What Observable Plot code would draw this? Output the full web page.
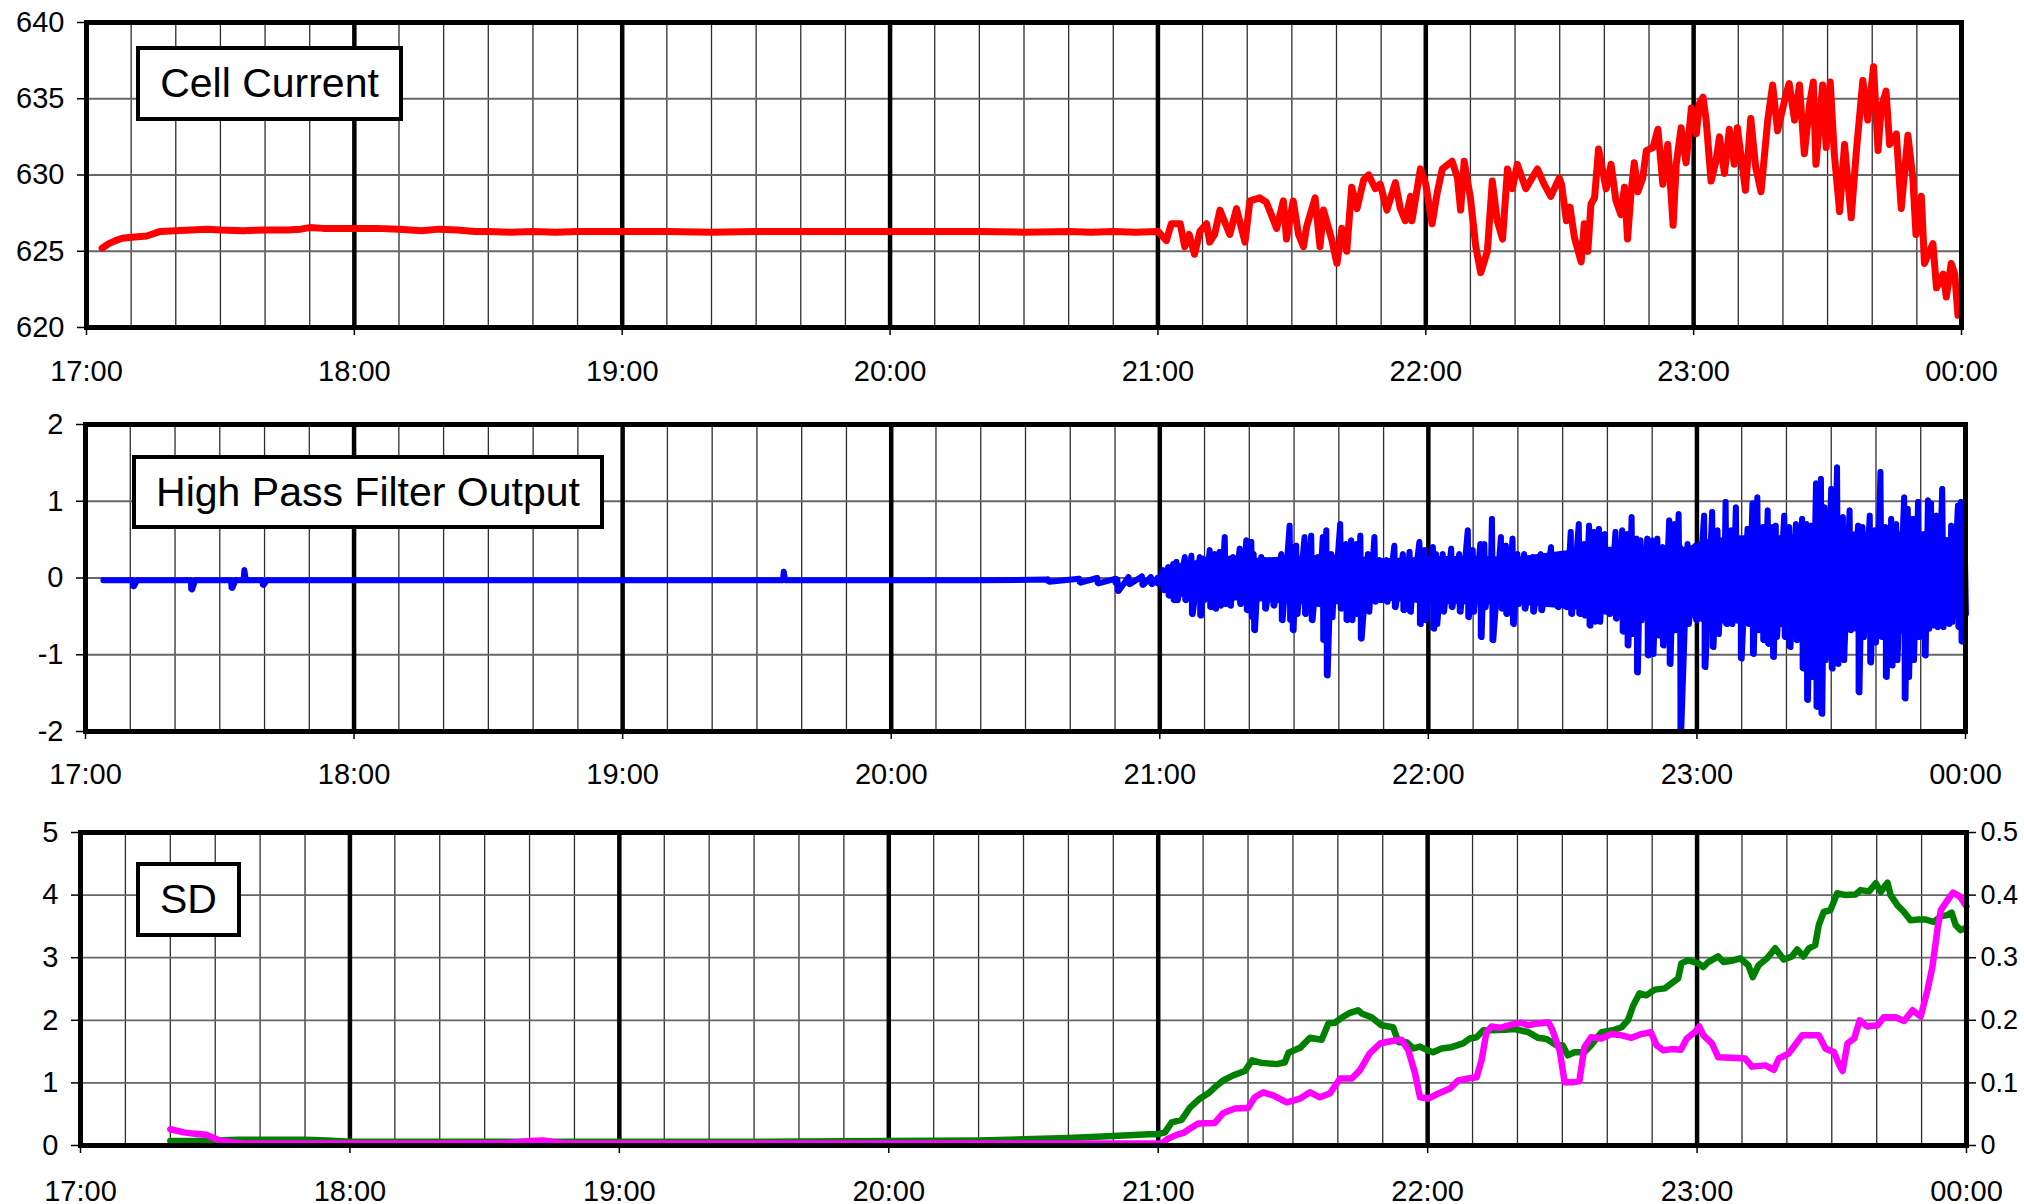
<!DOCTYPE html>
<html>
<head>
<meta charset="utf-8">
<script src="https://cdn.jsdelivr.net/npm/d3@7"></script>
<script src="https://cdn.jsdelivr.net/npm/@observablehq/plot@0.6"></script>
<style>
html, body { margin: 0; padding: 0; background: #fff; overflow: hidden; width: 2024px; height: 1204px; }
#root { position: relative; width: 2024px; height: 1204px; font-family: "Liberation Sans", Arial, sans-serif; background: #fff; }
.panel { position: absolute; left: 0; }
.panel svg { display: block; }
.tag { position: absolute; box-sizing: border-box; border: 4px solid #000; background: #fff; font-size: 41px;
       display: flex; align-items: center; justify-content: center; color: #000; white-space: nowrap; }
</style>
</head>
<body>
<div id="root"></div>
<script>
// ---------- axis ticks & labels (time in minutes after 17:00) ----------
const hourTicks = [0, 60, 120, 180, 240, 300, 360, 420];
const hourLabels = ["17:00", "18:00", "19:00", "20:00", "21:00", "22:00", "23:00", "00:00"];
const currentTicks = [620, 625, 630, 635, 640];
const filterTicks = [-2, -1, 0, 1, 2];
const sdLeftTicks = [0, 1, 2, 3, 4, 5];
const sdRightTicks = [0, 0.1, 0.2, 0.3, 0.4, 0.5];
const panelTitles = ["Cell Current", "High Pass Filter Output", "SD"];

// ---------- Cell current: [minutes after 17:00, value] ----------
const cellCurrent = [
[3.5,625.2],[5,625.5],[6.5,625.7],[8,625.85],[9.5,625.9],[11.5,625.95],[13.5,626.0],[15,626.15],[16.5,626.3],
[20,626.35],[23.5,626.4],[27,626.45],[30,626.4],[35,626.35],[40,626.4],[45,626.4],[48,626.45],[50,626.55],
[53,626.5],[57,626.5],[60,626.5],[65,626.5],[70,626.45],[75,626.35],[79,626.45],[83,626.4],[87,626.3],[90,626.3],
[95,626.25],[100,626.3],[105,626.25],[110,626.3],[115,626.3],[120,626.3],[130,626.3],[140,626.25],[150,626.3],
[160,626.3],[170,626.3],[180,626.3],[190,626.3],[200,626.3],[210,626.25],[220,626.3],[225,626.25],[230,626.3],
[235,626.25],[240,626.3],
[241.9,625.7],[243,626.8],[245,626.8],[246,625.3],[247,626.1],[248.2,624.8],[249.4,626.3],[250.9,626.8],
[251.6,625.6],[252.7,626.1],[253.9,627.7],[256.1,626.1],[257.6,627.8],[259.5,625.6],[260.6,628.3],[262.8,628.5],
[264.3,628.2],[266.6,626.5],[268.1,628.3],[268.8,625.8],[270.3,628.3],[271.5,626.1],[272.6,625.3],[273.3,626.6],
[275.2,628.5],[276.3,625.3],[277.1,627.7],[278.9,625.8],[280.1,624.2],[281.2,626.5],[282.3,625.0],[283.4,629.2],
[284.6,627.8],[286.1,629.7],[287.2,630.0],[288.7,629.1],[289.8,629.4],[291.3,627.7],[293.2,629.5],[294.3,627.8],
[295.4,627.0],[296.6,628.6],[296.9,627.0],[298.8,630.4],[300,629.4],[301.4,626.8],[302.6,628.9],[303.7,630.4],
[305.9,630.9],[307.1,629.8],[307.8,627.7],[308.6,630.9],[310,628.5],[311.2,625.3],[312.3,623.6],[313.8,625.0],
[314.9,629.6],[316.0,627.0],[317.2,625.8],[318.3,630.4],[319.4,629.1],[320.5,630.7],[322.4,629.1],[325,630.4],
[326.5,629.4],[328,628.6],[329.9,629.8],[330.4,629.4],[331.5,627.0],[332.3,627.9],[333.3,625.9],[334.8,624.3],
[335.5,626.8],[336.3,625.0],[337.0,628.1],[337.8,628.5],[338.7,631.7],[340.4,629.1],[341.5,630.7],[342.6,628.3],
[343.7,627.4],[344.5,629.2],[345.2,625.8],[346.0,628.9],[346.7,630.8],[347.5,628.9],[348.6,629.8],[349.4,631.6],
[350.9,631.8],[352.0,633.0],[353.1,629.4],[354.2,632.0],[355.4,626.7],[356.1,630.7],[357.2,633.1],[358.3,630.8],
[359.5,634.4],[360.6,632.7],[361.3,634.7],[362.1,635.1],[362.8,633.6],[363.9,629.6],[365.0,630.9],[365.8,632.5],
[366.9,630.1],[368.0,633.0],[369.1,630.7],[369.8,633.1],[371.6,629.0],[372.8,633.7],[373.9,630.5],[375.1,628.9],
[376.6,633.6],[377.7,635.9],[378.8,632.9],[380.7,635.3],[381.4,636.0],[382.6,633.6],[383.7,635.9],[384.8,631.4],
[386.0,634.7],[386.8,636.1],[387.4,630.7],[388.9,635.9],[389.7,631.8],[390.6,636.1],[391.5,631.4],[392.7,627.6],
[393.8,632.0],[395.3,627.2],[396.4,631.4],[397.9,636.2],[399.0,633.6],[400.3,637.1],[401.3,631.6],[402.0,634.4],
[403.1,635.5],[403.9,632.0],[405.4,632.7],[406.5,627.8],[408.0,632.6],[409.1,629.8],[409.8,626.1],[411.0,628.6],
[411.7,624.2],[413.6,625.5],[414.4,622.6],[415.9,623.5],[416.6,622.0],[417.7,624.2],[418.5,623.5],[419.2,620.8],
[419.8,622.4]
];

// ---------- High pass filter output: [minutes after 17:00, peak, trough] ----------
const filterOutput = [
[4,-0.03,-0.03],[9.5,-0.03,-0.03],[10.5,-0.03,-0.11],[11.5,-0.03,-0.03],[22.5,-0.03,-0.03],[23.5,-0.03,-0.15],
[24.5,-0.03,-0.03],[31.5,-0.03,-0.03],[32.5,-0.03,-0.13],[33.5,-0.03,-0.03],[35,-0.03,-0.03],[35.5,0.10,-0.03],
[36.5,-0.03,-0.03],[39,-0.03,-0.03],[39.5,-0.03,-0.09],[40.5,-0.03,-0.03],[60,-0.03,-0.03],[90,-0.03,-0.03],
[120,-0.03,-0.03],[150,-0.03,-0.03],[155.5,-0.03,-0.03],[156,0.08,-0.03],[157,-0.03,-0.03],[200,-0.03,-0.03],
[215,-0.02,-0.05],[222,-0.01,-0.06],[226,0.0,-0.07],[230,-0.01,-0.07],[230.5,-0.02,-0.17],[233,0.01,-0.08],
[236,0.02,-0.09],[238,0.01,-0.08],[239.5,0.0,-0.08],
[240.74,0.10,-0.16],[241.86,0.14,-0.23],[242.97,0.18,-0.29],[243.72,0.21,-0.29],[245.58,0.27,-0.29],
[247.06,0.29,-0.47],[248.92,0.27,-0.49],[249.67,0.25,-0.29],[251.15,0.36,-0.38],[252.27,0.31,-0.40],
[253.38,0.34,-0.36],[254.5,0.53,-0.34],[255.6,0.25,-0.36],[256.36,0.27,-0.25],[257.84,0.38,-0.34],
[259.33,0.49,-0.42],[260.45,0.47,-0.51],[260.97,0.31,-0.68],[261.93,0.05,-0.10],[262.68,0.27,-0.21],
[263.42,0.23,-0.40],[265.28,0.21,-0.36],[267.14,0.31,-0.55],[269.0,0.68,-0.55],[269.6,0.40,-0.68],
[270.48,0.42,-0.47],[272.34,0.53,-0.47],[273.83,0.55,-0.55],[275.3,0.27,-0.34],[276.4,0.53,-0.81],
[277.2,0.62,-1.27],[278.3,0.31,-0.51],[279.0,0.05,-0.08],[280.3,0.70,-0.40],[281.6,0.44,-0.55],
[282.75,0.49,-0.55],[283.9,0.44,-0.47],[284.8,0.55,-0.79],[286.5,0.31,-0.44],[287.95,0.53,-0.31],
[289.1,0.23,-0.29],[290.6,0.23,-0.31],[292.4,0.42,-0.38],[294.3,0.31,-0.42],[295.8,0.34,-0.44],
[296.5,0.05,-0.12],[298.0,0.47,-0.60],[299.1,0.36,-0.55],[301.0,0.40,-0.66],[301.7,0.31,-0.60],
[303.2,0.31,-0.44],[305.1,0.38,-0.38],[306.9,0.31,-0.44],[308.8,0.62,-0.51],[309.9,0.36,-0.44],
[311.6,0.44,-0.77],[312.5,0.44,-0.38],[313.6,0.08,-0.08],[314.2,0.77,-0.81],[316.2,0.53,-0.40],
[317.3,0.42,-0.47],[318.8,0.51,-0.60],[319.9,0.31,-0.34],[321.4,0.31,-0.40],[323.3,0.27,-0.44],
[325.1,0.31,-0.42],[327.4,0.40,-0.31],[328.8,0.27,-0.38],[330.65,0.27,-0.38],[331.8,0.60,-0.47],
[333.6,0.70,-0.47],[334.75,0.44,-0.49],[335.9,0.68,-0.62],[337.0,0.60,-0.57],[338.1,0.64,-0.57],
[339.4,0.57,-0.44],[340.3,0.27,-0.47],[341.8,0.60,-0.53],[343.3,0.62,-0.70],[344.4,0.57,-0.88],
[345.4,0.79,-0.73],[346.5,0.51,-1.23],[347.4,0.49,-0.55],[348.9,0.51,-1.01],[350.0,0.49,-0.99],
[351.15,0.51,-0.75],[352.3,0.40,-0.88],[353.8,0.75,-1.12],[354.9,0.70,-0.68],[355.9,0.83,-0.55],
[356.2,0.40,-1.98],[357.9,0.44,-0.60],[359.7,0.42,-0.55],[361.6,0.81,-1.16],[363.4,0.86,-0.90],
[364.6,0.62,-0.73],[365.7,0.27,-0.55],[366.4,0.99,-0.60],[367.6,0.62,-0.60],[368.7,0.92,-0.51],
[369.7,0.40,-1.05],[371.3,0.64,-0.60],[372.4,0.97,-0.99],[373.5,1.05,-0.68],[374.7,0.66,-0.81],
[375.8,0.88,-0.86],[376.9,0.66,-1.03],[377.6,0.68,-0.77],[379.5,0.81,-0.77],[380.6,0.66,-0.90],
[382.1,0.70,-0.81],[383.5,0.77,-1.18],[384.5,0.70,-1.59],[385.5,0.68,-1.29],[386.6,1.23,-1.68],
[387.7,1.29,-1.77],[388.5,0.92,-1.07],[390.0,1.16,-1.18],[391.3,1.44,-1.12],[392.6,0.79,-1.07],
[394.1,0.88,-0.68],[396.0,0.68,-1.49],[397.0,0.66,-0.77],[398.6,0.81,-1.10],[399.7,0.62,-0.84],
[401.0,1.38,-0.77],[402.1,0.66,-1.29],[403.4,0.77,-1.14],[404.5,0.70,-1.07],[406.3,1.05,-1.57],
[407.1,0.90,-1.29],[408.2,0.77,-1.07],[409.4,0.99,-0.77],[410.8,0.57,-1.01],[411.6,1.01,-0.66],
[412.3,0.97,-0.62],[413.5,0.81,-0.64],[414.8,1.16,-0.64],[416.1,0.49,-0.60],[416.8,0.68,-0.57],
[418.3,0.94,-0.64],[419.0,0.99,-0.83],[419.8,0.49,-0.47]
];

// dense solid core of the filter output: [minutes after 17:00, low, high]
const filterCore = [
[240.5,-0.08,0.05],[242,-0.2,0.12],[245,-0.25,0.2],[250,-0.3,0.24],[260,-0.3,0.25],[270,-0.35,0.28],
[280,-0.35,0.3],[290,-0.3,0.25],[296,-0.32,0.26],[300,-0.35,0.28],[310,-0.35,0.28],[320,-0.35,0.27],
[330,-0.4,0.35],[340,-0.45,0.4],[350,-0.5,0.4],[358,-0.5,0.4],[362,-0.6,0.5],[370,-0.6,0.55],
[380,-0.65,0.55],[386,-0.75,0.6],[395,-0.7,0.6],[405,-0.75,0.6],[412,-0.6,0.6],[419.8,-0.5,0.45]
];

// ---------- SD of cell current (magenta, left axis): [minutes after 17:00, value] ----------
const sdCurrent = [
[20,0.26],[23,0.21],[25,0.19],[28,0.17],[31,0.08],[34,0.05],[37,0.03],[45,0.03],[60,0.03],[80,0.03],[95,0.04],
[100,0.07],[103,0.08],[106,0.05],[110,0.03],[140,0.03],[170,0.03],[200,0.03],[230,0.03],[240.7,0.03],
[242.2,0.11],[244.1,0.17],[245.6,0.20],[247.1,0.27],[248.9,0.35],[252.6,0.36],[254.5,0.52],[257.1,0.59],
[260,0.60],[261.5,0.77],[263.4,0.85],[265.6,0.80],[268.6,0.69],[271.6,0.75],[273.8,0.85],[276,0.77],
[278.2,0.83],[280.5,1.07],[283.1,1.07],[284.9,1.20],[287.1,1.47],[289.4,1.63],[292,1.67],[294.2,1.69],
[295.7,1.52],[297.2,1.15],[298.3,0.77],[300.1,0.75],[302.4,0.83],[305,0.91],[306.8,1.04],[309,1.07],
[310.9,1.09],[312,1.36],[313.1,1.81],[314.2,1.90],[316.1,1.88],[318.7,1.93],[320.9,1.96],[322.4,1.92],
[324.6,1.95],[326.9,1.97],[327.8,1.84],[329.4,1.52],[330.5,1.01],[332.3,1.01],[333.8,1.03],[334.9,1.57],
[336.4,1.73],[338.7,1.71],[340.9,1.78],[343.2,1.76],[345.4,1.72],[347.6,1.78],[349.7,1.81],[351,1.60],
[352.5,1.52],[354.3,1.54],[356.4,1.53],[357.7,1.71],[359.5,1.81],[360.5,1.90],[361.4,1.76],[363.3,1.63],
[364.7,1.41],[367.7,1.40],[370.7,1.39],[372.2,1.26],[375.2,1.28],[377.1,1.21],[378.2,1.39],[380.4,1.47],
[383.4,1.76],[387.1,1.76],[388.6,1.55],[390.5,1.49],[391.7,1.28],[392.4,1.19],[393.5,1.63],[395,1.71],
[396.2,2.00],[397.9,1.90],[400.2,1.92],[401.6,2.05],[404.2,2.05],[406.1,1.99],[408,2.16],[409.8,2.06],
[411.3,2.48],[412.4,2.85],[413.6,3.49],[414.3,3.76],[415.5,3.89],[417,4.04],[418.5,3.98],[420,3.82]
];

// ---------- SD of filter output (green, right axis): [minutes after 17:00, value] ----------
const sdFilter = [
[20,0.007],[25,0.007],[30,0.008],[35,0.009],[40,0.009],[50,0.009],[55,0.008],[60,0.006],[70,0.006],[90,0.006],
[120,0.006],[150,0.006],[180,0.007],[200,0.008],[210,0.010],[220,0.012],[230,0.015],[238,0.018],[240,0.018],
[241.5,0.021],[243,0.037],[245.2,0.041],[247.1,0.061],[249.3,0.075],[251.1,0.083],[252.6,0.093],[254.5,0.104],
[256.7,0.112],[259.3,0.119],[260.9,0.136],[263,0.132],[266.4,0.130],[268.2,0.133],[269,0.148],[271.6,0.156],
[273.8,0.172],[276.4,0.169],[277.9,0.195],[279.3,0.196],[280.8,0.204],[282.7,0.212],[284.5,0.216],[285.3,0.211],
[287.5,0.205],[289.7,0.192],[292.3,0.189],[293.5,0.165],[295.3,0.165],[296.8,0.155],[298.3,0.158],[300,0.152],
[301.2,0.149],[303.1,0.155],[305.3,0.157],[307.9,0.163],[309.4,0.171],[310.9,0.173],[312.4,0.184],[314.2,0.184],
[317.2,0.185],[319.4,0.186],[322.4,0.181],[324.6,0.172],[326.5,0.170],[328.7,0.160],[330.1,0.160],[331.2,0.144],
[332.7,0.149],[334.9,0.149],[336.4,0.160],[338.7,0.181],[341.3,0.184],[343.2,0.189],[344.6,0.200],[345.8,0.224],
[347.2,0.243],[348.7,0.240],[350.6,0.249],[352.8,0.251],[354.3,0.259],[355.8,0.267],[356.5,0.291],[358,0.296],
[360.3,0.291],[361.4,0.285],[362.5,0.293],[364.7,0.302],[365.9,0.293],[367.7,0.295],[369.6,0.299],[371.4,0.288],
[372.4,0.269],[373.7,0.288],[375.6,0.299],[377.4,0.315],[379.3,0.297],[381.1,0.302],[382.3,0.313],[383.7,0.302],
[384.9,0.315],[386.3,0.320],[387.1,0.352],[388.2,0.373],[389.7,0.376],[391.2,0.403],[393.1,0.400],[395.3,0.401],
[396.4,0.408],[398.3,0.406],[399.8,0.419],[400.9,0.405],[402.4,0.420],[403.1,0.400],[404.6,0.384],[406.1,0.373],
[407.5,0.360],[409.4,0.361],[410.9,0.361],[412.7,0.357],[414.2,0.366],[415.7,0.368],[416.7,0.372],[417.6,0.352],
[418.7,0.344],[419.9,0.348]
];

// ---------- build ----------
const root = document.getElementById("root");
const FONT = '"Liberation Sans", Arial, Helvetica, sans-serif';
const minorTicks = d3.range(0, 421, 10).filter(d => d % 60 !== 0);
const innerHours = hourTicks.slice(1, -1);
const sdRatio = sdLeftTicks[sdLeftTicks.length - 1] / sdRightTicks[sdRightTicks.length - 1];

// HPF as an oscillating trace: each sample contributes its peak then its trough
const filterTrace = [];
for (const [t, hi, lo] of filterOutput) {
  filterTrace.push({t, v: hi});
  filterTrace.push({t: t + 0.3, v: lo});
}

function makePanel(cfg) {
  const marks = [
    Plot.ruleX(minorTicks, {stroke: "#2e2e2e", strokeWidth: 1.3}),
    Plot.ruleY(cfg.grid, {stroke: "#666", strokeWidth: 1.8}),
    Plot.ruleX(innerHours, {stroke: "#000", strokeWidth: 4.5}),
    ...cfg.marks,
    Plot.frame({stroke: "#000", strokeWidth: 5}),
    Plot.axisX({ticks: hourTicks, tickFormat: d => hourLabels[hourTicks.indexOf(d)], tickSize: 8,
                tickPadding: cfg.xPad, fontSize: 29, strokeWidth: 1.5, label: null}),
    Plot.axisY({ticks: cfg.yTicks, tickFormat: d => String(d), tickSize: 9, tickPadding: 13,
                fontSize: 29, strokeWidth: 1.5, label: null}),
    ...(cfg.extra || [])
  ];
  const svg = Plot.plot({
    width: 2024, height: cfg.height,
    marginLeft: cfg.mL, marginRight: cfg.mR, marginTop: cfg.mT, marginBottom: cfg.mB,
    x: {domain: [0, 420]},
    y: {domain: cfg.yDomain},
    style: {fontFamily: FONT, background: "transparent", overflow: "visible", color: "#000"},
    marks
  });
  const div = document.createElement("div");
  div.className = "panel";
  div.style.top = cfg.top + "px";
  div.appendChild(svg);
  root.appendChild(div);
}

makePanel({
  top: 0, height: 400, mL: 86, mR: 63, mT: 22, mB: 73, xPad: 25,
  yDomain: [620, 640], yTicks: currentTicks, grid: currentTicks.slice(1, -1),
  marks: [
    Plot.line(cellCurrent, {x: d => d[0], y: d => d[1], stroke: "#ff0000", strokeWidth: 7,
                            strokeLinejoin: "round", strokeLinecap: "round"})
  ]
});

makePanel({
  top: 400, height: 410, mL: 85, mR: 59, mT: 24, mB: 79, xPad: 24,
  yDomain: [-2, 2], yTicks: filterTicks, grid: filterTicks.slice(1, -1),
  marks: [
    Plot.areaY(filterCore, {x: d => d[0], y1: d => d[1], y2: d => d[2], fill: "#0000ff"}),
    Plot.ruleX(filterOutput, {x: d => d[0], y1: d => d[2], y2: d => d[1], stroke: "#0000ff", strokeWidth: 5,
                              strokeLinecap: "round"}),
    Plot.line(filterTrace, {x: "t", y: "v", stroke: "#0000ff", strokeWidth: 6,
                            strokeLinejoin: "round", strokeLinecap: "round"})
  ]
});

makePanel({
  top: 810, height: 394, mL: 80, mR: 58, mT: 22, mB: 59, xPad: 27,
  yDomain: [0, 5], yTicks: sdLeftTicks, grid: sdLeftTicks.slice(1, -1),
  marks: [
    Plot.line(sdFilter, {x: d => d[0], y: d => d[1] * sdRatio, stroke: "#008000", strokeWidth: 6.5,
                         strokeLinejoin: "round", strokeLinecap: "round"}),
    Plot.line(sdCurrent, {x: d => d[0], y: d => d[1], stroke: "#ff00ff", strokeWidth: 6.5,
                          strokeLinejoin: "round", strokeLinecap: "round"})
  ],
  extra: [
    Plot.axisY({anchor: "right", ticks: sdRightTicks.map(v => v * sdRatio),
                tickFormat: d => String(sdRightTicks[Math.round(d)]), tickSize: 9, tickPadding: 5,
                fontSize: 27, strokeWidth: 1.5, label: null})
  ]
});

// ---------- boxed panel titles ----------
const tagBoxes = [
  {left: 136, top: 46, width: 267, height: 75},
  {left: 132, top: 455, width: 472, height: 74},
  {left: 136, top: 862, width: 105, height: 75}
];
panelTitles.forEach((txt, i) => {
  const b = tagBoxes[i];
  const el = document.createElement("div");
  el.className = "tag";
  Object.assign(el.style, {left: b.left + "px", top: b.top + "px", width: b.width + "px", height: b.height + "px"});
  el.textContent = txt;
  root.appendChild(el);
});
</script>
</body>
</html>
